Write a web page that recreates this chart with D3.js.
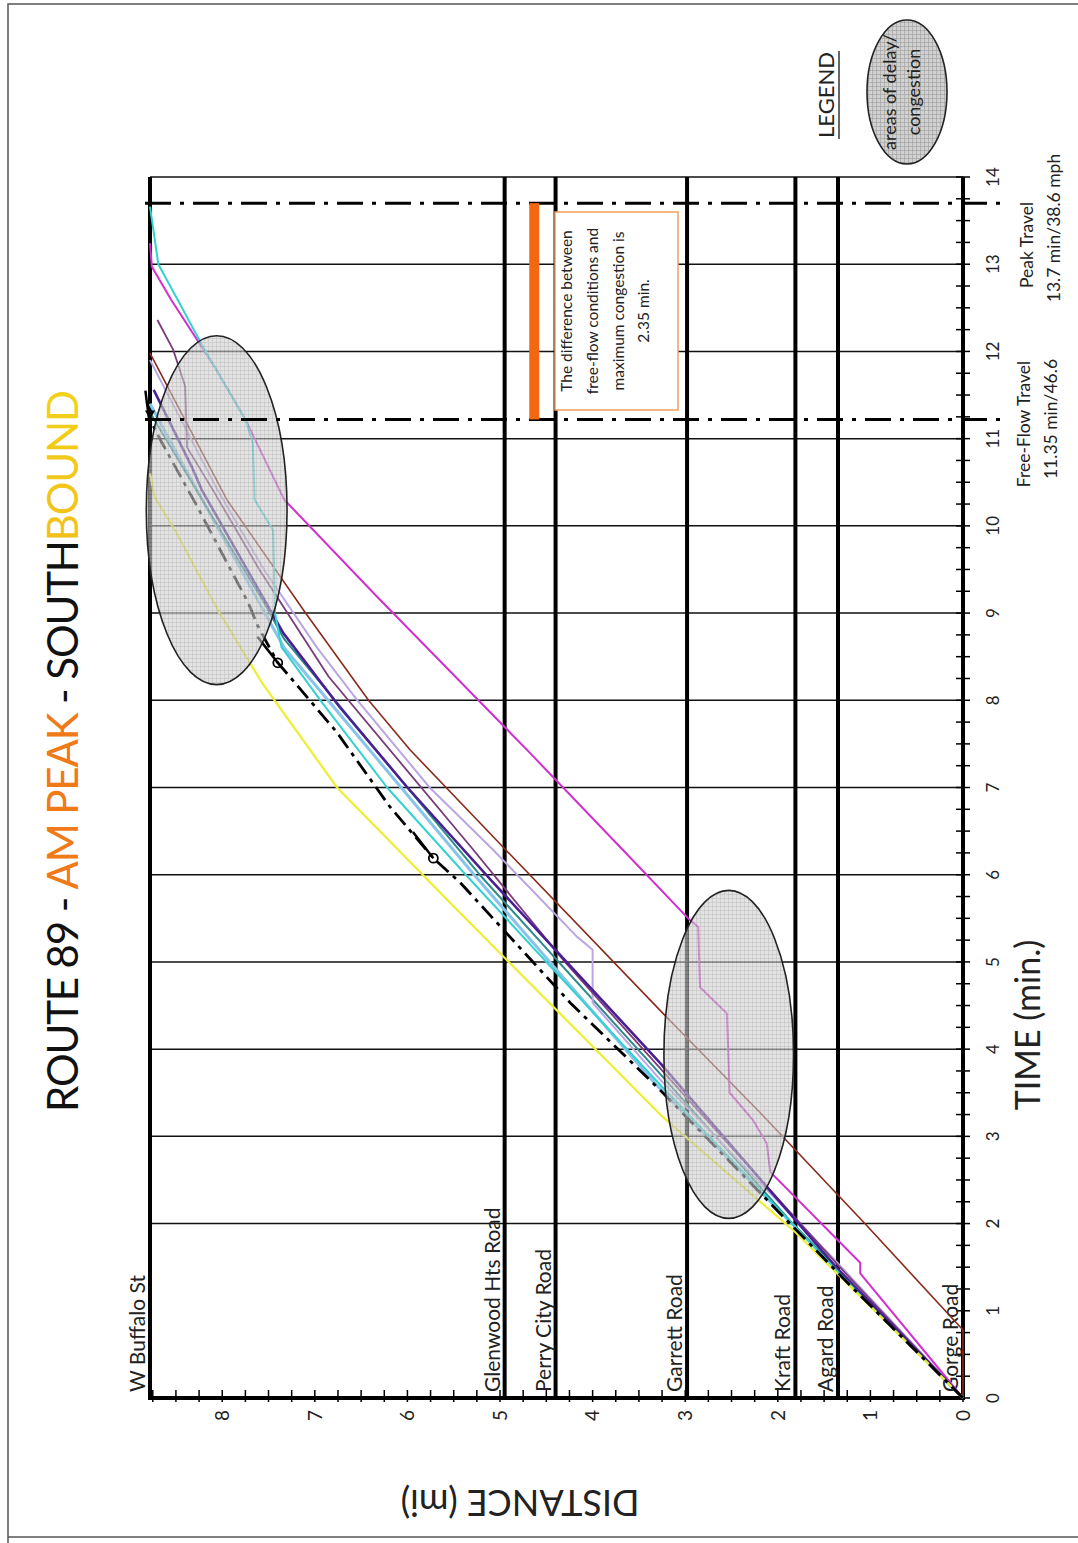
<!DOCTYPE html>
<html><head><meta charset="utf-8">
<script src="https://cdn.jsdelivr.net/npm/d3@7/dist/d3.min.js"></script>
<style>html,body{margin:0;padding:0;background:#fff;} svg{display:block;} text{font-family:Lato,"Open Sans",sans-serif;fill:#222;}</style>
</head><body>
<svg id="c" width="1078" height="1543"></svg>
<script>
// ---------------- data ----------------
const roadNames = ["W Buffalo St","Glenwood Hts Road","Perry City Road","Garrett Road","Kraft Road","Agard Road","Gorge Road"];
const roadMiles = [8.78, 4.95, 4.40, 2.98, 1.81, 1.35, 0];
const timeTicks = [0,1,2,3,4,5,6,7,8,9,10,11,12,13,14];
const distanceTicks = [0,1,2,3,4,5,6,7,8];
const gridTimes = [2,3,4,5,6,7,8,9,10,11,12,13,14];
const freeFlowLineMin = 11.22;   // where the free-flow marker line is drawn
const peakLineMin = 13.7;
const differenceBarMile = 4.63;

const yellowRun = [[0,0],[1.9,1.81],[3.22,3.24],[5.56,5.43],[5.94,5.78],[7.0,6.76],[8.2,7.57],[9.04,8.05],[9.95,8.51],[10.33,8.73],[10.6,8.78]];
const freeFlowRun = [[0,0],[1.26,1.19],[3.53,3.27],[4.53,4.24],[5.91,5.43],[6.19,5.72],[6.78,6.19],[7.63,6.76],[8.27,7.27],[8.43,7.40],[8.84,7.61],[9.12,7.72],[10.26,8.29],[10.99,8.67],[11.22,8.78]];
const cyanRun = [[0,0],[1.0,0.95],[3.68,3.35],[6.0,5.37],[7.0,6.22],[8.0,6.94],[8.61,7.36],[9.0,7.43],[9.95,7.45],[10.3,7.65],[10.95,7.67],[11.22,7.75],[12.02,8.19],[12.59,8.48],[13.0,8.69],[13.66,8.78]];
const skyRun = [[0,0],[2.0,1.85],[3.6,3.32],[6.0,5.28],[8.6,7.33],[10.5,8.32],[11.4,8.78]];
const tealRun = [[0,0],[2.0,1.84],[3.75,3.3],[6.0,5.22],[8.7,7.33],[9.12,7.55],[10.5,8.33],[11.3,8.78]];
const indigoRun = [[0,0],[1.5,1.37],[3.84,3.27],[5.94,5.1],[7.0,6.0],[7.92,6.73],[8.77,7.34],[10.41,8.22],[10.68,8.33],[11.56,8.74]];
const plumRun = [[0,0],[1.5,1.33],[3.4,2.95],[5.0,4.3],[6.3,5.3],[8.27,6.85],[9.5,7.6],[10.41,8.1],[10.9,8.38],[11.6,8.40],[12.02,8.53],[12.36,8.70]];
const lavenderRun = [[0,0],[1.6,1.4],[3.65,3.27],[4.53,4.0],[5.14,4.0],[5.29,4.17],[6.28,5.07],[7.0,5.76],[8.0,6.54],[8.61,6.98],[9.5,7.55],[10.41,8.05],[11.9,8.78]];
const brownRun = [[0,0],[0.78,0],[2.0,1.06],[3.27,2.19],[4.41,3.24],[6.32,4.97],[7.43,5.97],[8.0,6.42],[9.0,7.1],[10.3,7.95],[11.98,8.78]];
const magentaRun = [[0,0],[1.43,1.11],[1.55,1.11],[2.59,2.08],[2.92,2.12],[3.19,2.27],[3.50,2.52],[4.41,2.55],[4.71,2.84],[5.40,2.86],[5.48,2.95],[6.28,3.67],[7.40,4.68],[9.19,6.33],[10.30,7.33],[11.22,7.75],[11.82,8.08],[12.59,8.55],[12.97,8.76],[13.24,8.78]];
const freeFlowMarkers = [[6.19,5.72],[8.43,7.40]];

// congestion areas: [centre min, centre mi, half-width min, half-height mi]
const congestionAreas = [[10.18,8.06,2.0,0.76],[3.94,2.53,1.88,0.70]];

const runs = [
  {data: skyRun, color:"#86c4ea", w:3},
  {data: tealRun, color:"#2f8a8a", w:2},
  {data: lavenderRun, color:"#b9a6e2", w:2},
  {data: brownRun, color:"#8a2a1a", w:1.6},
  {data: magentaRun, color:"#d22fd0", w:2},
  {data: plumRun, color:"#7b3a7a", w:1.8},
  {data: indigoRun, color:"#4a1f93", w:2.6},
  {data: cyanRun, color:"#33d2d2", w:2},
  {data: yellowRun, color:"#eeee30", w:2.2}
];

// ---------------- chart ----------------
const svg = d3.select("#c");
svg.append("rect").attr("width",1078).attr("height",1543).attr("fill","#fff");
// page frame
svg.append("path").attr("d","M8,1543 V4 H1078 M8,1537 H1078").attr("fill","none").attr("stroke","#555").attr("stroke-width",1.5);

const defs = svg.append("defs");
const pat = defs.append("pattern").attr("id","hatch").attr("patternUnits","userSpaceOnUse").attr("width",4).attr("height",4);
pat.append("rect").attr("width",4).attr("height",4).attr("fill","#d2d2d2");
pat.append("path").attr("d","M0,0.5 H4 M0.5,0 V4").attr("stroke","#a4a4a4").attr("stroke-width",0.7);
const grad = defs.append("linearGradient").attr("id","boundGrad").attr("x1","0").attr("y1","0").attr("x2","1").attr("y2","0");
grad.append("stop").attr("offset","0%").attr("stop-color","#f07a18");
grad.append("stop").attr("offset","100%").attr("stop-color","#f2d21a");

// rotated drawing frame: inner (x,y) -> page (y, 1543-x)
const g = svg.append("g").attr("transform","translate(0,1543) rotate(-90)");

const x = d3.scaleLinear().domain([0,14]).range([145,1366]);
const y = d3.scaleLinear().domain([0,8.78]).range([963,150]);

// grid lines (time)
g.selectAll(".grid").data(gridTimes).join("line")
  .attr("x1",d=>x(d)).attr("x2",d=>x(d)).attr("y1",y(8.78)).attr("y2",y(0))
  .attr("stroke","#111").attr("stroke-width",1.5);

// road lines
g.selectAll(".road").data(roadMiles).join("line")
  .attr("x1",x(0)).attr("x2",x(14)).attr("y1",d=>y(d)).attr("y2",d=>y(d))
  .attr("stroke","#000").attr("stroke-width",4);
// time-zero axis (distance axis)
g.append("line").attr("x1",x(0)).attr("x2",x(0)).attr("y1",y(8.78)-2).attr("y2",y(0)+2).attr("stroke","#000").attr("stroke-width",4);

// distance axis ticks & labels
const dMinor = d3.range(0,8.76,0.25);
g.selectAll(".dt").data(dMinor).join("line")
  .attr("x1",x(0)-4).attr("x2",x(0)+8).attr("y1",d=>y(d)).attr("y2",d=>y(d))
  .attr("stroke","#000").attr("stroke-width",1.5);
g.selectAll(".dl").data(distanceTicks).join("text")
  .attr("x",x(0)-12).attr("y",d=>y(d)).attr("dy","0.36em").attr("text-anchor","end")
  .attr("font-size",19).text(d=>d);

// time axis ticks & labels
const tMinor = d3.range(0,14.01,0.25);
g.selectAll(".tt").data(tMinor).join("line")
  .attr("x1",d=>x(d)).attr("x2",d=>x(d)).attr("y1",y(0)-7).attr("y2",y(0)+7)
  .attr("stroke","#000").attr("stroke-width",1.5);
g.selectAll(".tl").data(timeTicks).join("text")
  .attr("x",d=>x(d)).attr("y",999).attr("text-anchor","middle")
  .attr("font-size",17).text(d=>d);

// road labels
g.selectAll(".rl").data(roadNames).join("text")
  .attr("x",x(0)+6).attr("y",(d,i)=>y(roadMiles[i])-5)
  .attr("font-size",21).text(d=>d);

// runs
const line = d3.line().x(d=>x(d[0])).y(d=>y(d[1]));
runs.forEach(r=>{
  g.append("path").attr("d",line(r.data)).attr("fill","none")
    .attr("stroke",r.color).attr("stroke-width",r.w).attr("stroke-linejoin","round");
});
g.append("path").attr("d",line(freeFlowRun)).attr("fill","none")
  .attr("stroke","#000").attr("stroke-width",2.8).attr("stroke-dasharray","16,6,4,6");
freeFlowMarkers.forEach(m=>{
  g.append("line").attr("x1",x(m[0])).attr("y1",y(m[1])).attr("x2",x(m[0]+0.3)).attr("y2",y(m[1]+0.22))
    .attr("stroke","#000").attr("stroke-width",2.5);
  g.append("circle").attr("cx",x(m[0])).attr("cy",y(m[1])).attr("r",4.5)
    .attr("fill","none").attr("stroke","#000").attr("stroke-width",1.8);
});
// arrow at end of free-flow run
g.append("path").attr("d",`M${x(11.55)},${y(8.83)} L${x(11.22)},${y(8.79)}`).attr("stroke","#000").attr("stroke-width",2.5);
g.append("path").attr("d",`M${x(11.22)},${y(8.78)} l9,-5 l0,10 z`).attr("fill","#000");

// congestion ellipses
g.selectAll(".cong").data(congestionAreas).join("ellipse")
  .attr("cx",d=>x(d[0])).attr("cy",d=>y(d[1]))
  .attr("rx",d=>x(d[0]+d[2])-x(d[0])).attr("ry",d=>y(d[1])-y(d[1]+d[3]))
  .attr("fill","url(#hatch)").attr("fill-opacity",0.62)
  .attr("stroke","#222").attr("stroke-width",1.6);

// free-flow / peak marker lines
[freeFlowLineMin, peakLineMin].forEach(t=>{
  g.append("line").attr("x1",x(t)).attr("x2",x(t)).attr("y1",145).attr("y2",1007)
    .attr("stroke","#000").attr("stroke-width",3).attr("stroke-dasharray","26,9,4,9");
});
// difference bar
g.append("rect").attr("x",x(freeFlowLineMin)).attr("width",x(peakLineMin)-x(freeFlowLineMin))
  .attr("y",y(differenceBarMile)-5).attr("height",10).attr("fill","#f2670f");

// annotation box
g.append("rect").attr("x",1133).attr("y",555).attr("width",198).attr("height",123)
  .attr("fill","#fff").attr("stroke","#f0a060").attr("stroke-width",1.5);
const noteLines = ["The difference between","free-flow conditions and","maximum congestion is","2.35 min."];
const noteBase = [572,598,624,649];
noteLines.forEach((t,i)=>{
  g.append("text").attr("x",1232).attr("y",noteBase[i]).attr("text-anchor","middle")
    .attr("font-size",15.5).attr("fill","#333").text(t);
});

// travel time notes
[["Peak Travel",1298,1033],["13.7 min/38.6 mph",1315,1060],["Free-Flow Travel",1119,1030],["11.35 min/46.6",1124,1057]].forEach(a=>{
  g.append("text").attr("x",a[1]).attr("y",a[2]).attr("text-anchor","middle").attr("font-size",17.5).attr("fill","#333").text(a[0]);
});

// legend
g.append("text").attr("x",1448).attr("y",834).attr("text-anchor","middle").attr("font-size",22).attr("fill","#333").text("LEGEND");
g.append("line").attr("x1",1404).attr("x2",1492).attr("y1",839).attr("y2",839).attr("stroke","#333").attr("stroke-width",1.5);
g.append("ellipse").attr("cx",1451).attr("cy",907).attr("rx",72).attr("ry",40)
  .attr("fill","url(#hatch)").attr("stroke","#222").attr("stroke-width",1.6);
g.append("text").attr("x",1451).attr("y",896).attr("text-anchor","middle").attr("font-size",18).attr("fill","#333").text("areas of delay/");
g.append("text").attr("x",1451).attr("y",920).attr("text-anchor","middle").attr("font-size",18).attr("fill","#333").text("congestion");

// title
const title = g.append("text").attr("x",431).attr("y",78).attr("font-size",42).attr("textLength",722).attr("lengthAdjust","spacing");
title.append("tspan").attr("fill","#111").text("ROUTE 89 - ");
title.append("tspan").attr("fill","#f07a18").text("AM PEAK");
title.append("tspan").attr("fill","#111").text(" - SOUTH");
title.append("tspan").attr("fill","url(#boundGrad)").text("BOUND");

// axis titles
g.append("text").attr("x",518).attr("y",1040).attr("text-anchor","middle").attr("font-size",34).attr("fill","#222").text("TIME (min.)");
g.append("text").attr("transform","translate(53,520) rotate(-90)").attr("text-anchor","middle").attr("font-size",36).attr("fill","#222").text("DISTANCE (mi)");
</script>
</body></html>
